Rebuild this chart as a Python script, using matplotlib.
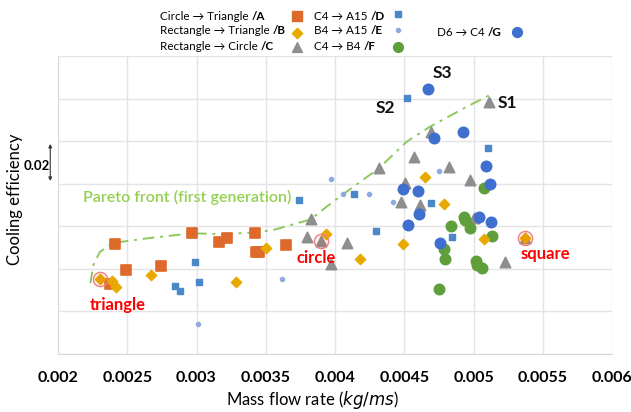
import matplotlib
matplotlib.use("Agg")
import matplotlib.pyplot as plt

plt.rcParams['font.family'] = ['Lato', 'DejaVu Sans']

# ---- data (mass flow rate, cooling efficiency in relative units) ----
a_x = [0.002411, 0.002969, 0.003165, 0.003217, 0.003421, 0.003429, 0.003450, 0.003647, 0.002488, 0.002741, 0.002372]
a_y = [0.0515, 0.0567, 0.0526, 0.0543, 0.0567, 0.0478, 0.0480, 0.0510, 0.0396, 0.0413, 0.0328]

b_x = [0.002303, 0.002393, 0.002416, 0.002673, 0.003282, 0.003501, 0.003934, 0.004179, 0.004491, 0.004649, 0.004789, 0.005075, 0.005373]
b_y = [0.0354, 0.0344, 0.0315, 0.0371, 0.0337, 0.0496, 0.0565, 0.0445, 0.0516, 0.0830, 0.0703, 0.0540, 0.0545]

c_x = [0.003825, 0.003800, 0.003898, 0.004085, 0.003968, 0.004316, 0.004574, 0.004690, 0.005111, 0.004826, 0.004978, 0.004506, 0.004480, 0.004617, 0.005005, 0.005227, 0.005373]
c_y = [0.0633, 0.0551, 0.0531, 0.0523, 0.0423, 0.0872, 0.0926, 0.1044, 0.1182, 0.0879, 0.0817, 0.0803, 0.0715, 0.0701, 0.0640, 0.0432, 0.0545]

d_x = [0.003742, 0.002988, 0.002844, 0.002880, 0.003019, 0.004522, 0.005105, 0.004138, 0.004293, 0.004696, 0.004844]
d_y = [0.0725, 0.0430, 0.0321, 0.0297, 0.0337, 0.1201, 0.0966, 0.0754, 0.0578, 0.0710, 0.0548]

e_x = [0.003970, 0.003618, 0.003009, 0.004060, 0.004245, 0.004419, 0.004754]
e_y = [0.0820, 0.0351, 0.0143, 0.0750, 0.0750, 0.0714, 0.0858]

f_x = [0.005076, 0.004932, 0.004937, 0.004841, 0.004978, 0.005133, 0.004785, 0.004797, 0.005016, 0.005023, 0.005064, 0.004751]
f_y = [0.0779, 0.0645, 0.0629, 0.0602, 0.0590, 0.0554, 0.0492, 0.0445, 0.0435, 0.0416, 0.0405, 0.0304]

g_x = [0.004670, 0.004927, 0.004713, 0.005093, 0.004491, 0.004601, 0.005122, 0.004607, 0.005040, 0.005129, 0.004527, 0.004761]
g_y = [0.1243, 0.1044, 0.1013, 0.0884, 0.0773, 0.0767, 0.0798, 0.0656, 0.0645, 0.0618, 0.0604, 0.0523]

pareto_x = [0.002234, 0.002255, 0.002303, 0.002375, 0.002411, 0.002664, 0.002967, 0.003191, 0.003421, 0.003551, 0.003823, 0.003939, 0.004035, 0.004316, 0.004516, 0.004684, 0.004949, 0.005141]
pareto_y = [0.0333, 0.0418, 0.0480, 0.0512, 0.0523, 0.0545, 0.0567, 0.0563, 0.0571, 0.0582, 0.0632, 0.0692, 0.0739, 0.0872, 0.0997, 0.1067, 0.1161, 0.1224]

highlight_x = [0.002303, 0.003898, 0.005373]
highlight_y = [0.0354, 0.0531, 0.0545]
highlight_labels = ['triangle', 'circle', 'square']
highlight_label_x = [0.002433, 0.003861, 0.005521]
highlight_label_y = [0.0230, 0.0451, 0.0470]

s_labels = ['S1', 'S2', 'S3']
s_x = [0.005242, 0.004367, 0.004776]
s_y = [0.1177, 0.1156, 0.1321]

xticks = [0.002, 0.0025, 0.003, 0.0035, 0.004, 0.0045, 0.005, 0.0055, 0.006]
xtick_labels = ['0.002', '0.0025', '0.003', '0.0035', '0.004', '0.0045', '0.005', '0.0055', '0.006']

legend_names = ['Circle \u2192 Triangle ', 'Rectangle \u2192 Triangle ', 'Rectangle \u2192 Circle ',
                'C4 \u2192 A15 ', 'B4 \u2192 A15 ', 'C4 \u2192 B4 ', 'D6 \u2192 C4 ']
legend_tags = ['/A', '/B', '/C', '/D', '/E', '/F', '/G']

# ---- styles ----
col_a = '#DD6A2A'
col_b = '#E8AA00'
col_c = '#8E8E8E'
col_d = '#4A88C8'
col_e = '#8FAADC'
col_f = '#5E9F3C'
col_g = '#3F6FCF'

W, H = 631, 412
fig = plt.figure(figsize=(W / 100, H / 100), dpi=100)
ax = fig.add_axes([58 / W, 1 - 354 / H, (612 - 58) / W, (354 - 56) / H])

ax.set_xlim(0.002, 0.006)
ax.set_ylim(0, 0.14)
ax.set_xticks(xticks)
ax.set_xticklabels(xtick_labels, fontsize=11.5, fontweight='bold')
ax.set_yticks([0.02 * i for i in range(8)])
ax.set_yticklabels([])
ax.tick_params(length=0, pad=12)
ax.grid(True, color='#e4e4e4', linewidth=1)
ax.set_axisbelow(True)
for sp in ['top', 'right']:
    ax.spines[sp].set_visible(False)
for sp in ['left', 'bottom']:
    ax.spines[sp].set_color('#d9d9d9')

# Pareto front
ax.plot(pareto_x, pareto_y, color='#8DC85E', linestyle=(0, (6, 3, 1.5, 3)), linewidth=1.4, zorder=2)
ax.text(0.002930, 0.0734, 'Pareto front (first generation)', color='#92D050',
        fontsize=11.5, fontweight='semibold', ha='center', va='center')

# series
ax.scatter(a_x, a_y, marker='s', s=52, color=col_a, edgecolors=col_a, linewidths=1.2, zorder=3)
ax.scatter(c_x, c_y, marker='^', s=55, color=col_c, edgecolors=col_c, linewidths=1.2, zorder=3)
ax.scatter(b_x, b_y, marker='D', s=28, color=col_b, zorder=4)
ax.scatter(d_x, d_y, marker='s', s=14, color=col_d, zorder=3)
ax.scatter(e_x, e_y, marker='P', s=12, color=col_e, zorder=3)
ax.scatter(f_x, f_y, marker='o', s=58, color=col_f, zorder=3)
ax.scatter(g_x, g_y, marker='o', s=58, color=col_g, zorder=3)

# highlighted shapes
ax.scatter(highlight_x, highlight_y, marker='o', s=105, facecolors='#ff000010',
           edgecolors='#F08080', linewidths=1.0, zorder=5)
for lx, ly, lab in zip(highlight_label_x, highlight_label_y, highlight_labels):
    ax.text(lx, ly, lab, color='#FF0000', fontsize=12, fontweight='bold',
            ha='center', va='center')

for lab, sx, sy in zip(s_labels, s_x, s_y):
    ax.text(sx, sy, lab, fontsize=12.5, fontweight='bold', ha='center', va='center', color='#111111')

# 0.02 bracket
ax.annotate('', xy=(-0.014, 0.1), xytext=(-0.014, 0.08), xycoords=('axes fraction', 'data'),
            textcoords=('axes fraction', 'data'),
            arrowprops=dict(arrowstyle='<|-|>', color='#333333', lw=0.8, mutation_scale=5),
            annotation_clip=False)
fig.text(37 / W, 1 - 166 / H, '0.02', fontsize=9.5, fontweight='bold', ha='center', va='center')

# axis labels
fig.text(15 / W, 1 - 199 / H, 'Cooling efficiency', rotation=90, fontsize=12, ha='center', va='center')
fig.text(312 / W, 1 - 400 / H, 'Mass flow rate ($kg/ms$)', fontsize=12, ha='center', va='center')

# legend (manual, at figure top)
leg_text_pos = [(160, 16), (160, 31), (160, 47), (314, 16), (314, 31), (314, 47), (437, 32)]
leg_mark_pos = [(297, 16), (297, 33), (297, 47), (398, 14), (398, 30), (398, 47), (517, 32)]
leg_styles = [dict(marker='s', s=45, color=col_a), dict(marker='D', s=28, color=col_b),
              dict(marker='^', s=50, color=col_c), dict(marker='s', s=14, color=col_d),
              dict(marker='P', s=12, color=col_e), dict(marker='o', s=50, color=col_f),
              dict(marker='o', s=50, color=col_g)]
for name, tag, (tx, ty) in zip(legend_names, legend_tags, leg_text_pos):
    t1 = fig.text(tx / W, 1 - ty / H, name, fontsize=8.4, ha='left', va='center')
    ax.annotate(tag, xy=(1, 0.5), xycoords=t1, fontsize=8.4, fontweight='bold',
                ha='left', va='center', annotation_clip=False)

lax = fig.add_axes([0, 0, 1, 1], facecolor='none')
lax.set_xlim(0, W)
lax.set_ylim(H, 0)
lax.axis('off')
for (mx, my), st in zip(leg_mark_pos, leg_styles):
    lax.scatter([mx], [my], **st)

fig.savefig('out.png', dpi=100)
